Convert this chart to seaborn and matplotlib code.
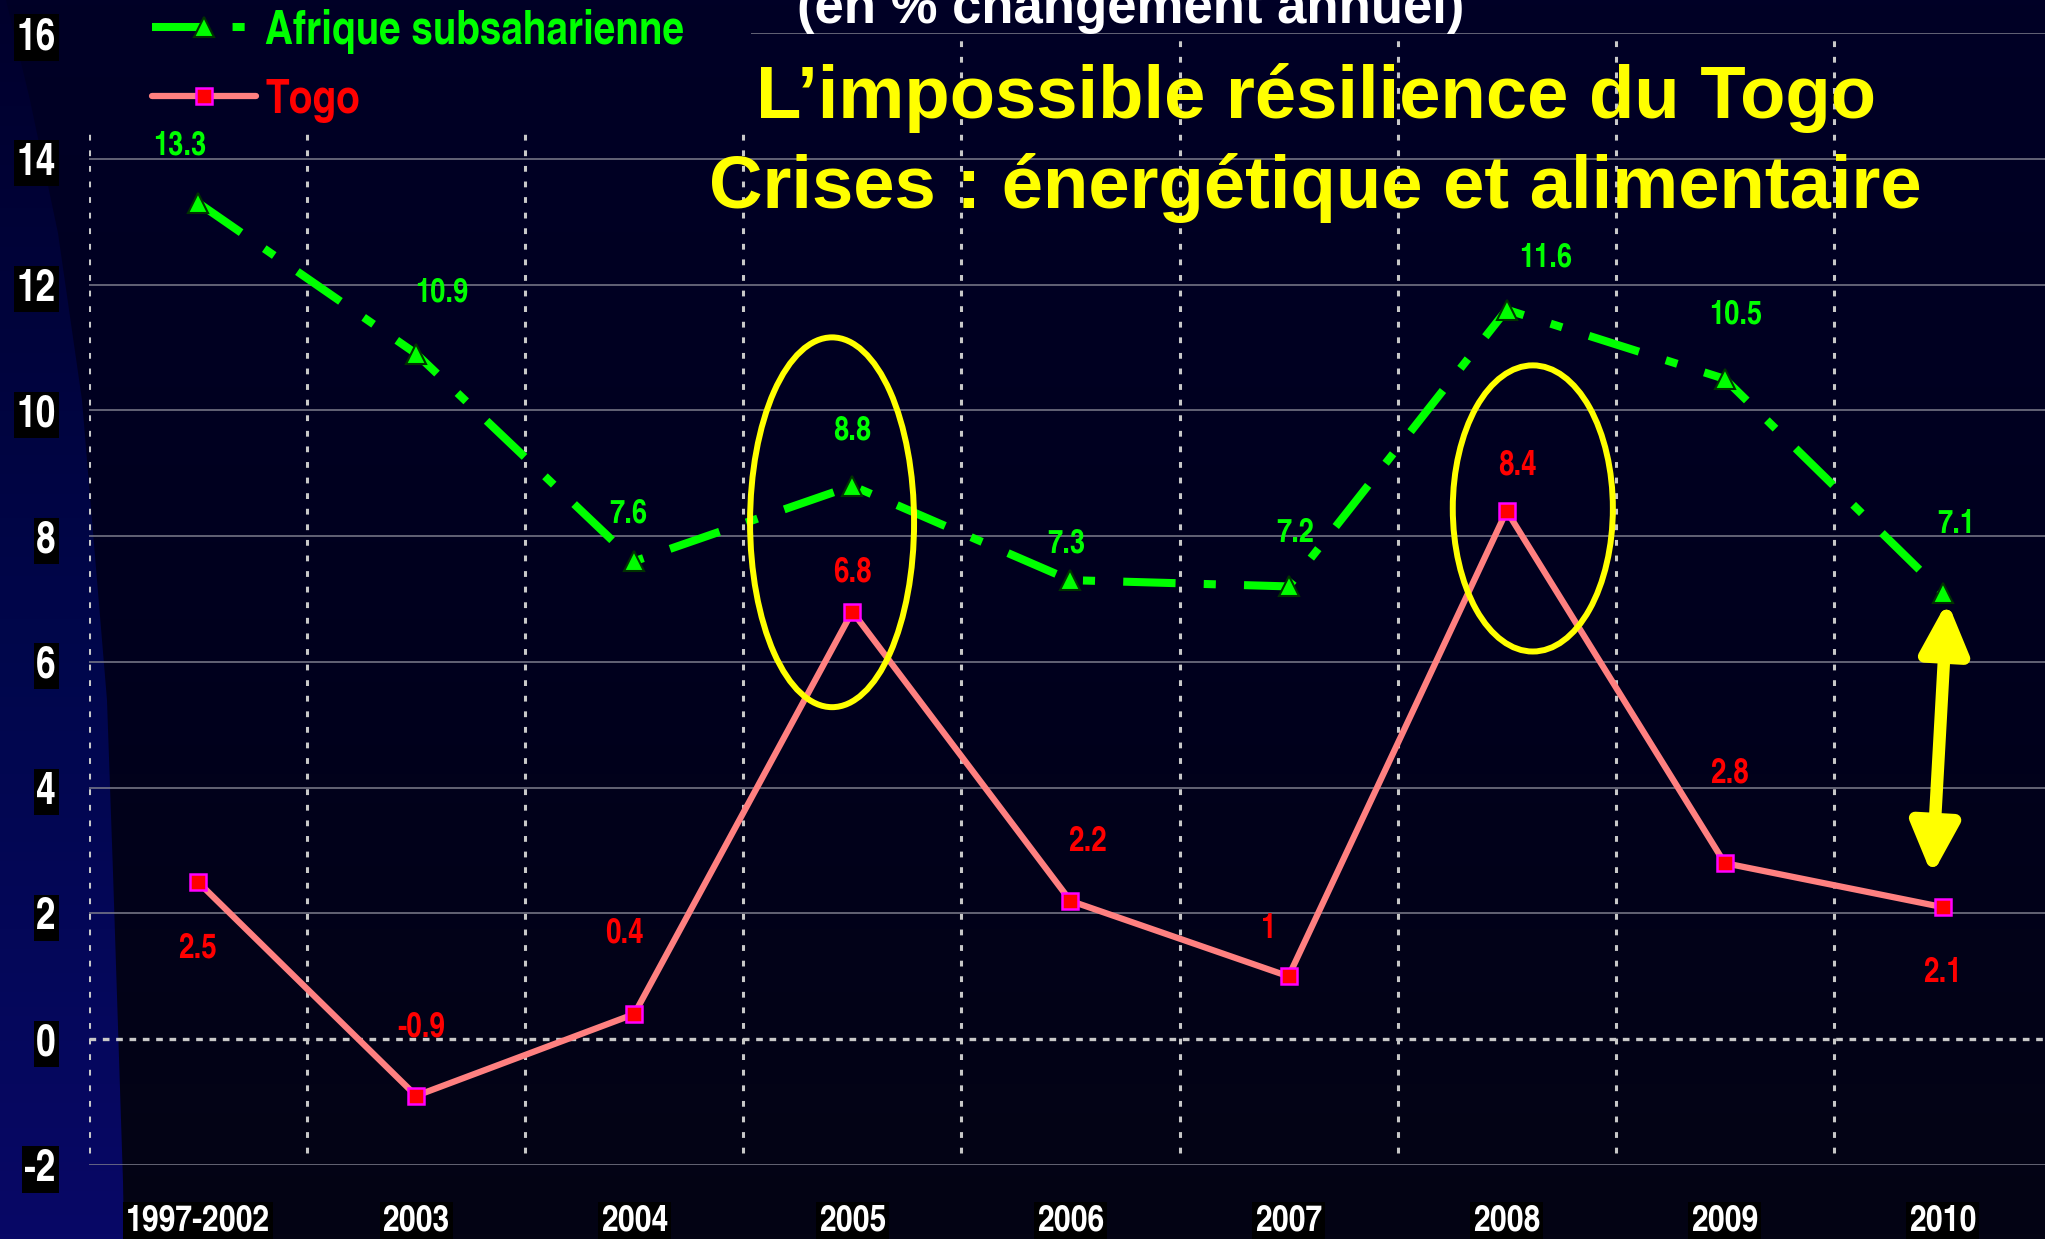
"""
Croissance des prix : Afrique subsaharienne vs Togo (en % changement annuel).
Reproduction d'une diapositive « L'impossible résilience du Togo ».
"""

import numpy as np
import matplotlib
matplotlib.use("Agg")
import matplotlib.pyplot as plt
from matplotlib.patches import Ellipse, Polygon
from matplotlib.colors import LinearSegmentedColormap
import seaborn as sns

# ── Données ───────────────────────────────────────────────────────────────
periodes = ["1997-2002", "2003", "2004", "2005", "2006", "2007", "2008", "2009", "2010"]
afrique = [13.3, 10.9, 7.6, 8.8, 7.3, 7.2, 11.6, 10.5, 7.1]
togo = [2.5, -0.9, 0.4, 6.8, 2.2, 1, 8.4, 2.8, 2.1]
graduations_y = [-2, 0, 2, 4, 6, 8, 10, 12, 14, 16]

label_afrique = "Afrique subsaharienne"
label_togo = "Togo"
titre_1 = "L’impossible résilience du Togo"
titre_2 = "Crises : énergétique et alimentaire"
sous_titre = "(en % changement annuel)"

# Décalage des étiquettes de valeur (pixels, vers le haut = positif)
off_afrique = [(-18, 57), (26, 61), (-6, 47), (0, 55), (-4, 36), (7, 53), (39, 52), (11, 64), (13, 68)]
off_togo = [(-1, -66), (5, 68), (-10, 81), (0, 39), (17, 59), (-20, 47), (11, 45), (5, 90), (0, -66)]

# Palette de la diapositive
VERT = "#00ff00"
ROUGE = "#ff0000"
SAUMON = "#ff8080"
MAGENTA = "#ff00ff"
JAUNE = "#ffff00"
GRIS_POINTILLE = "#c8c8c8"
GRIS_GRILLE = "#7d7d8c"

NARROW = ["TeX Gyre Heros Cn", "Liberation Sans Narrow", "DejaVu Sans"]
ARIAL = ["Liberation Sans", "DejaVu Sans"]

sns.set_theme(style="dark")
plt.rcParams["font.family"] = NARROW
plt.rcParams["font.weight"] = "bold"

W, H = 2045, 1239
PX_UNITE_X = 218.1
fig = plt.figure(figsize=(W / 100, H / 100), dpi=100)

# ── Fond : dégradé bleu nuit + forme bleue à gauche ──────────────────────
bg = fig.add_axes([0, 0, 1, 1], zorder=-10)
bg.set_xlim(0, W)
bg.set_ylim(H, 0)
bg.axis("off")
grad = np.linspace(0, 1, 256)[:, None]
cmap_fond = LinearSegmentedColormap.from_list("fond", ["#000026", "#00001e", "#040414"])
bg.imshow(grad, cmap=cmap_fond, extent=(0, W, H, 0), aspect="auto")
forme = Polygon([(0, 0), (6, 0), (30, 100), (58, 233), (82, 400), (107, 700),
                 (113, 872), (123, 1181), (124, 1239), (0, 1239)],
                closed=True, facecolor="none", edgecolor="none")
bg.add_patch(forme)
cmap_bleu = LinearSegmentedColormap.from_list("bleu", ["#00002c", "#00064a", "#080866"])
im = bg.imshow(grad, cmap=cmap_bleu, extent=(0, W, H, 0), aspect="auto")
im.set_clip_path(forme)

# ── Axe principal ─────────────────────────────────────────────────────────
ax = fig.add_axes([89 / W, (H - 1165) / H, 1 - 89 / W, (1165 - 33) / H])
ax.patch.set_alpha(0)
pos = np.arange(len(periodes))
xmax = -0.5 + (W - 89) / PX_UNITE_X
ax.set_xlim(-0.5, xmax)
ax.set_ylim(-2, 16)
for s in ax.spines.values():
    s.set_visible(False)
ax.grid(False)

# Grille horizontale
for y in graduations_y:
    if y == 0:
        ax.hlines(0, -0.5, xmax, colors=GRIS_POINTILLE, lw=2.4, linestyles=(0, (2, 2)), zorder=1)
    elif y == 16:
        ax.hlines(y, 2.535, xmax, colors=GRIS_GRILLE, lw=1.1, zorder=1)
    else:
        ax.hlines(y, -0.5, xmax, colors=GRIS_GRILLE, lw=1.1, zorder=1)

# Grille verticale pointillée
for k in range(len(periodes)):
    xv = k - 0.5
    haut = 14.5 if xv < 2.6 else 16
    ax.vlines(xv, -1.81, haut, colors=GRIS_POINTILLE, lw=2.2, linestyles=(0, (1.9, 3.2)), zorder=1)

# ── Séries ────────────────────────────────────────────────────────────────
sns.lineplot(x=pos, y=afrique, ax=ax, color=VERT, lw=5.8,
             linestyle=(0, (6.5, 3.5, 1.5, 3.5)), dash_capstyle="butt",
             marker="^", markersize=14, markerfacecolor=VERT,
             markeredgecolor="#003300", markeredgewidth=1.5,
             label=label_afrique, zorder=4)
sns.lineplot(x=pos, y=togo, ax=ax, color=SAUMON, lw=4.5,
             marker="s", markersize=12, markerfacecolor=ROUGE,
             markeredgecolor=MAGENTA, markeredgewidth=1.8,
             label=label_togo, zorder=4)
if ax.get_legend() is not None:
    ax.get_legend().remove()

# Étiquettes de valeur
for i, v in enumerate(afrique):
    ax.annotate(f"{v:g}", (pos[i], v), xytext=off_afrique[i], textcoords="offset pixels",
                ha="center", va="center", color=VERT, fontsize=24,
                fontweight="bold", family=NARROW, zorder=6)
for i, v in enumerate(togo):
    ax.annotate(f"{v:g}", (pos[i], v), xytext=off_togo[i], textcoords="offset pixels",
                ha="center", va="center", color=ROUGE, fontsize=24.5,
                fontweight="bold", family=NARROW, zorder=6)

# Cercles jaunes autour des pics de crise (2005 et 2008)
i05, i08 = periodes.index("2005"), periodes.index("2008")
ax.add_patch(Ellipse((pos[i05] - 0.093, togo[i05] + 1.42), 0.752, 5.88,
                     fill=False, edgecolor=JAUNE, lw=4.3, zorder=5))
ax.add_patch(Ellipse((pos[i08] + 0.12, togo[i08] + 0.04), 0.734, 4.55,
                     fill=False, edgecolor=JAUNE, lw=4.3, zorder=5))

# Flèche double : écart 2010
ax.annotate("", xy=(pos[-1] + 0.02, afrique[-1] - 0.14),
            xytext=(pos[-1] - 0.05, togo[-1] + 0.51),
            arrowprops=dict(arrowstyle="<|-|>,head_length=2.5,head_width=1.2",
                            color=JAUNE, lw=9, shrinkA=0, shrinkB=0),
            zorder=5)

# ── Graduations ───────────────────────────────────────────────────────────
boite = dict(facecolor="black", edgecolor="none", pad=2)
ax.set_xticks(pos)
ax.set_xticklabels(periodes, fontsize=26.5, fontweight="bold", color="white", family=NARROW)
ax.set_yticks(graduations_y)
ax.set_yticklabels([str(v) for v in graduations_y], fontsize=31, fontweight="bold",
                   color="white", family=NARROW)
ax.tick_params(axis="x", length=0, pad=28.5)
ax.tick_params(axis="y", length=0, pad=23.8)
for lab in ax.get_xticklabels() + ax.get_yticklabels():
    lab.set_bbox(boite)

# ── Légende ───────────────────────────────────────────────────────────────
handles, labels = ax.get_legend_handles_labels()
fig.legend(handles, labels, loc="upper left", bbox_to_anchor=(152 / W, 1 - 9 / H),
           frameon=False, prop=dict(family=NARROW, weight="bold", size=34),
           handlelength=2.2, handletextpad=0.2, labelspacing=0.52,
           borderpad=0, borderaxespad=0, labelcolor=[VERT, ROUGE])

# ── Titres ────────────────────────────────────────────────────────────────
fig.text(1131 / W, 1 - 23 / H, sous_titre, ha="center", va="baseline", fontsize=38,
         color="white", fontweight="bold", family=ARIAL)
fig.text(1316 / W, 1 - 118 / H, titre_1, ha="center", va="baseline", fontsize=53.5,
         color=JAUNE, fontweight="bold", family=ARIAL)
fig.text(1315 / W, 1 - 208 / H, titre_2, ha="center", va="baseline", fontsize=53.5,
         color=JAUNE, fontweight="bold", family=ARIAL)

fig.savefig("out.png", dpi=100, facecolor=fig.get_facecolor())
